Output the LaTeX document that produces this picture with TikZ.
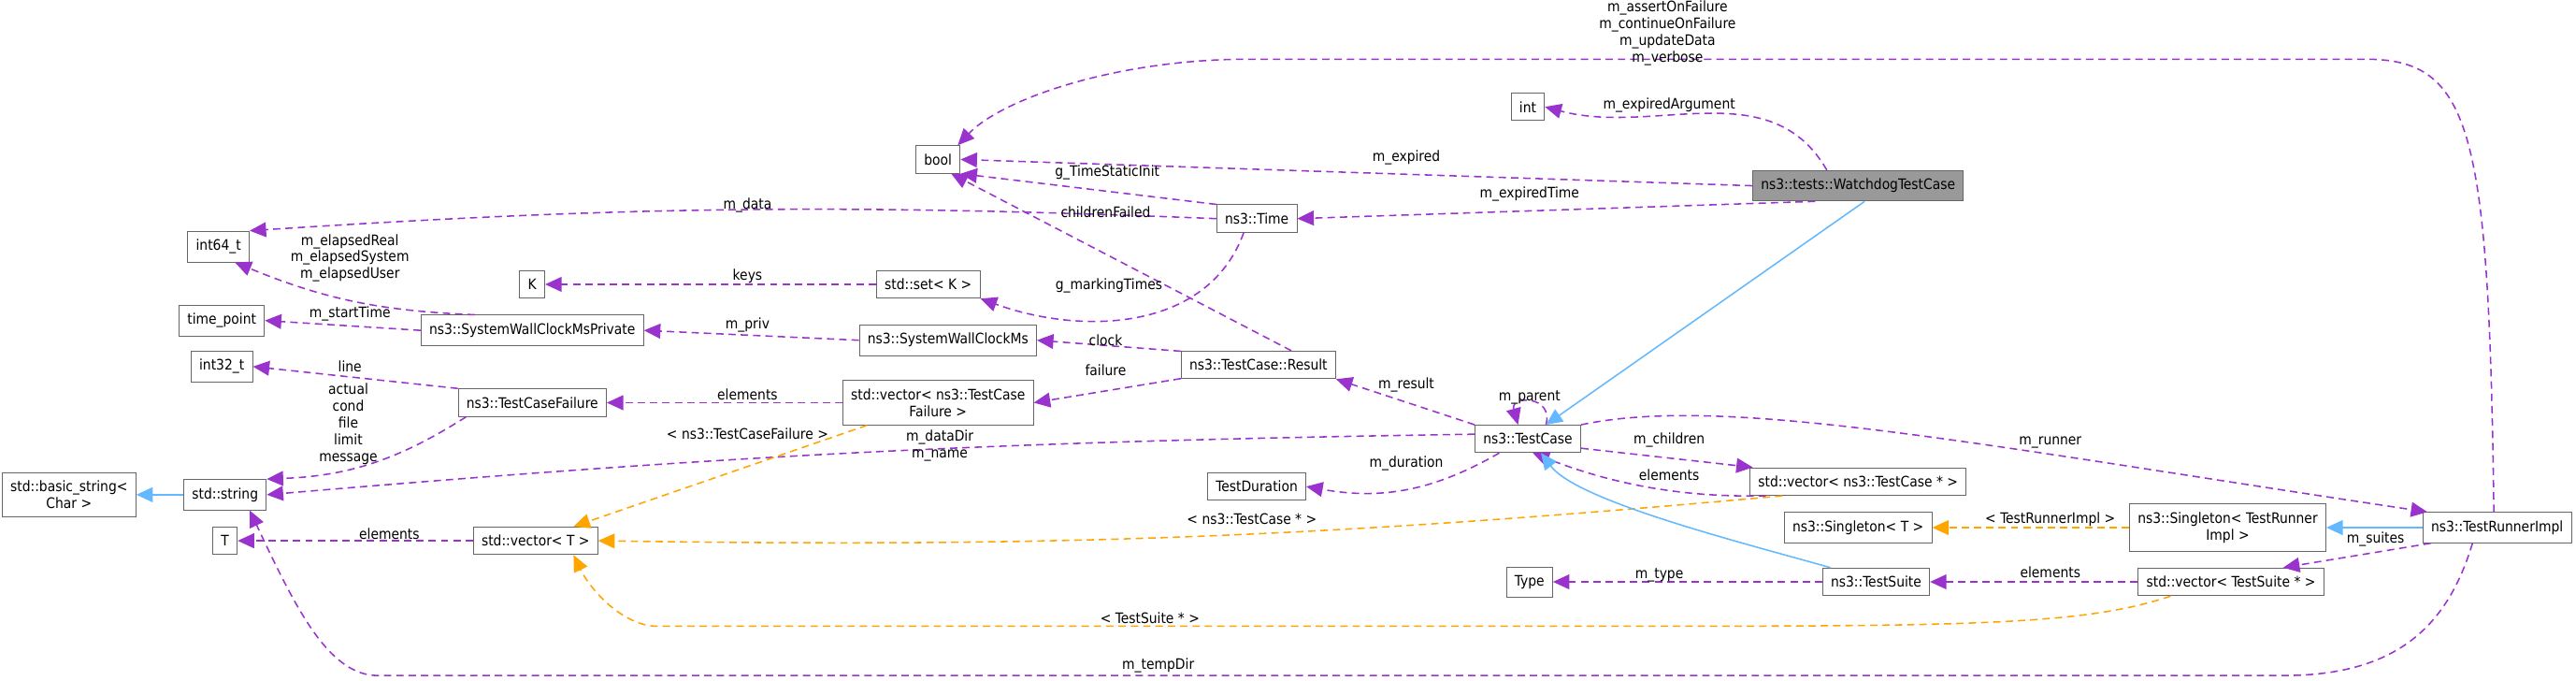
\documentclass[tikz,border=0pt]{standalone}
\usepackage{fontspec}
\setmainfont{DejaVu Sans Condensed}
\usetikzlibrary{arrows.meta,positioning}
\definecolor{edgepurple}{HTML}{9A32CD}
\definecolor{edgeorange}{HTML}{FFA500}
\definecolor{edgeblue}{HTML}{63B8FF}
\begin{document}
\begin{tikzpicture}[x=0.1mm,y=-0.1mm,font=\fontsize{2.5pt}{2.9pt}\selectfont]

\tikzset{cls/.style={draw=black!60,fill=white,line width=0.15pt,inner sep=0.5mm,minimum height=1.5mm,align=center},
curnode/.style={cls,fill=black!40},
lbl/.style={inner sep=0pt,align=center},
pe/.style={draw=edgepurple,dash pattern=on 0.45mm off 0.3mm,line width=0.25pt,-{Triangle[length=1mm,width=0.9mm]}},
oe/.style={draw=edgeorange,dash pattern=on 0.45mm off 0.3mm,line width=0.25pt,-{Triangle[length=1mm,width=0.9mm]}},
be/.style={draw=edgeblue,line width=0.25pt,-{Triangle[length=1mm,width=0.9mm]}}}

\useasboundingbox (0,0) rectangle (1568,414);

% classes
\node[curnode] (wd) at (1131,113) {ns3::tests::WatchdogTestCase};
\node[cls] (int) at (930,65) {int};
\node[cls] (bool) at (571,97) {bool};
\node[cls] (tm) at (765,133) {ns3::Time};
\node[cls] (i64) at (133,150) {int64\_t};
\node[cls] (k) at (324,173) {K};
\node[cls] (set) at (565,173) {std::set< K >};
\node[cls] (tp) at (135,195) {time\_point};
\node[cls] (swp) at (324,201) {ns3::SystemWallClockMsPrivate};
\node[cls] (sw) at (577,207) {ns3::SystemWallClockMs};
\node[cls] (res) at (766,222) {ns3::TestCase::Result};
\node[cls] (i32) at (135,223) {int32\_t};
\node[cls] (tcf) at (324,245) {ns3::TestCaseFailure};
\node[cls] (vtcf) at (571,245) {std::vector< ns3::TestCase\\Failure >};
\node[cls] (bstr) at (42,301) {std::basic\_string<\\Char >};
\node[cls] (str) at (137,301) {std::string};
\node[cls] (tc) at (930,267) {ns3::TestCase};
\node[cls] (td) at (765,296) {TestDuration};
\node[cls] (vtc) at (1131,293) {std::vector< ns3::TestCase * >};
\node[cls] (t) at (137,329) {T};
\node[cls] (vt) at (326,329) {std::vector< T >};
\node[cls] (sgt) at (1131,321) {ns3::Singleton< T >};
\node[cls] (sgr) at (1356,321) {ns3::Singleton< TestRunner\\Impl >};
\node[cls] (tri) at (1520,321) {ns3::TestRunnerImpl};
\node[cls] (ty) at (931,354) {Type};
\node[cls] (ts) at (1142,354) {ns3::TestSuite};
\node[cls] (vts) at (1358,354) {std::vector< TestSuite * >};

% members
\draw[pe] (wd.west) -- (bool.east);
\draw[pe] ([xshift=-1.9mm]wd.north) to[out=120,in=-15] (int.east);
\draw[pe] (wd.200) -- (tm.east);
\draw[pe] (tm.north west) -- (bool.south east);
\draw[pe] (tm.west) to[bend right=3] (i64.north east);
\draw[pe] ([xshift=-0.8mm]tm.south) to[out=-110,in=-20] (set.south east);
\draw[pe] (set.west) -- (k.east);
\draw[pe] ([xshift=2mm]res.north) -- ([xshift=0.8mm]bool.south);
\draw[pe] ([xshift=-3.5mm]swp.north) to[bend left=10] ([xshift=1mm]i64.south);
\draw[pe] (swp.west) -- (tp.east);
\draw[pe] (sw.west) -- (swp.east);
\draw[pe] (res.170) -- (sw.east);
\draw[pe] (res.190) -- (vtcf.east);
\draw[pe] (tc.north west) -- (res.south east);
\draw[pe] ([xshift=1.1mm]tc.north) .. controls +(5,-18) and +(-5,-18) .. ([xshift=-0.6mm]tc.north);
\draw[pe] (tc.175) to[bend right=2] (str.east);
\draw[pe] ([xshift=1.5mm]tc.south west) to[bend left=20] (td.east);
\draw[pe] (tc.-10) -- ([xshift=0.2mm]vtc.north west);
\draw[pe] ([xshift=1mm]vtc.south west) .. controls (1050,302) and (1000,302) .. ([xshift=0.3mm]tc.south);
\draw[pe] (tc.north east) .. controls (1050,240) and (1200,270) .. ([xshift=0.3mm]tri.north west);
\draw[pe] (tcf.north west) -- (i32.east);
\draw[pe] ([xshift=0.5mm]tcf.south west) to[bend left=15] (str.north east);
\draw[pe] (vtcf.west) -- (tcf.east);
\draw[pe] (vt.west) -- (t.east);
\draw[pe] ([xshift=0.5mm]tri.south west) -- ([xshift=-2.5mm]vts.north east);
\draw[pe] (vts.west) -- (ts.east);
\draw[pe] (ts.west) -- (ty.east);
\draw[pe] ([xshift=-0.2mm]tri.north) .. controls (1515,80) and (1505,36) .. (1440,36) -- (760,36) .. controls (680,36) and (610,60) .. ([xshift=1.2mm]bool.north);
\draw[pe] ([xshift=-1.5mm]tri.south) .. controls (1490,380) and (1460,411) .. (1390,411) -- (230,411) .. controls (200,411) and (180,370) .. ([xshift=1.5mm]str.south);

% templates
\draw[oe] ([xshift=1.5mm]vtcf.south west) -- ([xshift=-1.5mm]vt.north east);
\draw[oe] ([xshift=2mm]vtc.south west) to[bend left=3] (vt.east);
\draw[oe] ([xshift=2mm]vts.south west) .. controls (1270,380) and (1200,381) .. (1000,381) -- (400,381) .. controls (380,381) and (360,360) .. ([xshift=-1.5mm]vt.south east);
\draw[oe] (sgr.west) -- (sgt.east);

% inheritance
\draw[be] ([xshift=0.4mm]wd.south) -- ([xshift=1.1mm]tc.north);
\draw[be] ([xshift=0.5mm]ts.north west) .. controls (1060,330) and (960,305) .. ([xshift=0.8mm]tc.south);
\draw[be] (tri.west) -- (sgr.east);
\draw[be] (str.west) -- (bstr.east);

% labels
\node[lbl] (l1) at (1015,20) {m\_assertOnFailure\\m\_continueOnFailure\\m\_updateData\\m\_verbose};
\node[lbl] (l2) at (1016,64) {m\_expiredArgument};
\node[lbl] (l3) at (856,96) {m\_expired};
\node[lbl] (l4) at (674,105) {g\_TimeStaticInit};
\node[lbl] (l5) at (931,118) {m\_expiredTime};
\node[lbl] (l6) at (455,125) {m\_data};
\node[lbl] (l7) at (673,129) {childrenFailed};
\node[lbl] (l8) at (213,157) {m\_elapsedReal\\m\_elapsedSystem\\m\_elapsedUser};
\node[lbl] (l9) at (455,168) {keys};
\node[lbl] (l10) at (675,174) {g\_markingTimes};
\node[lbl] (l11) at (213,191) {m\_startTime};
\node[lbl] (l12) at (455,198) {m\_priv};
\node[lbl] (l13) at (673,207) {clock};
\node[lbl] (l14) at (673,225) {failure};
\node[lbl] (l15) at (213,223) {line};
\node[lbl] (l16) at (856,234) {m\_result};
\node[lbl] (l17) at (931,242) {m\_parent};
\node[lbl] (l18) at (455,240) {elements};
\node[lbl] (l19) at (212,258) {actual\\cond\\file\\limit\\message};
\node[lbl] (l20) at (1016,268) {m\_children};
\node[lbl] (l21) at (1248,269) {m\_runner};
\node[lbl] (l22) at (572,271) {m\_dataDir\\m\_name};
\node[lbl] (l23) at (455,264) {< ns3::TestCaseFailure >};
\node[lbl] (l24) at (1016,289) {elements};
\node[lbl] (l25) at (856,282) {m\_duration};
\node[lbl] (l26) at (762,316) {< ns3::TestCase * >};
\node[lbl] (l27) at (1248,316) {< TestRunnerImpl >};
\node[lbl] (l28) at (237,325) {elements};
\node[lbl] (l29) at (1446,328) {m\_suites};
\node[lbl] (l30) at (1248,348) {elements};
\node[lbl] (l31) at (1010,350) {m\_type};
\node[lbl] (l32) at (700,376) {< TestSuite * >};
\node[lbl] (l33) at (705,405) {m\_tempDir};

\end{tikzpicture}
\end{document}
